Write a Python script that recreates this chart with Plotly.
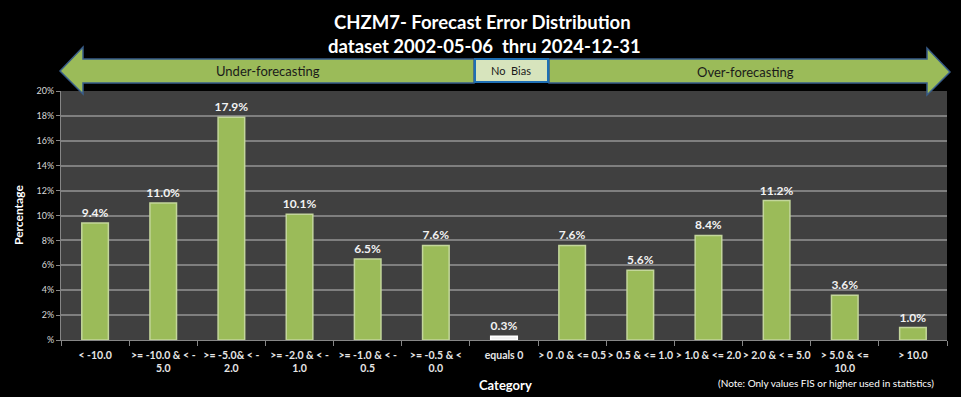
import plotly.graph_objects as go

categories = ["< -10.0", ">= -10.0 & < -<br>5.0", ">= -5.0& < -<br>2.0", ">= -2.0 & < -<br>1.0",
              ">= -1.0 & < -<br>0.5", ">= -0.5 & <<br>0.0", "equals 0", "> 0 .0 & <= 0.5",
              "> 0.5 & <= 1.0", "> 1.0 & <= 2.0", "> 2.0 & < = 5.0", "> 5.0 & <=<br>10.0", "> 10.0"]
values = [9.4, 11.0, 17.9, 10.1, 6.5, 7.6, 0.3, 7.6, 5.6, 8.4, 11.2, 3.6, 1.0]
ytick_vals = [0, 2, 4, 6, 8, 10, 12, 14, 16, 18, 20]
ytick_text = ["%", "2%", "4%", "6%", "8%", "10%", "12%", "14%", "16%", "18%", "20%"]

W, H = 961, 397
L, R, T, B = 61, 14, 91, 57
PW, PH = W - L - R, H - T - B

def px(x):
    return (x - L) / PW

def py(y):
    return (H - B - y) / PH

def path(points):
    return "M " + " L ".join(f"{px(a):.5f},{py(b):.5f}" for a, b in points) + " Z"

FONT = "Lato, 'Open Sans', sans-serif"
colors = ["#9BBB59"] * len(values)
colors[6] = "#F2F2F2"
lines = ["#C3D69B"] * len(values)
lines[6] = "#FFFFFF"

fig = go.Figure(go.Bar(
    x=categories, y=values, width=0.39,
    marker=dict(color=colors, line=dict(color=lines, width=1.5)),
    text=[f"{v:.1f}%" for v in values], textposition="outside", constraintext="none",
    textfont=dict(family=FONT, size=12, color="#F2F2F2", weight="bold"),
    cliponaxis=False,
))

shapes = [
    dict(type="path", xref="paper", yref="paper",
         path=path([(60, 71), (83, 47), (83, 59), (474, 59), (474, 83), (83, 83), (83, 94)]),
         fillcolor="#9BBB59", line=dict(color="#385D8A", width=1.5)),
    dict(type="path", xref="paper", yref="paper",
         path=path([(549, 59), (927, 59), (927, 48), (950, 72), (927, 95), (927, 83), (549, 83)]),
         fillcolor="#9BBB59", line=dict(color="#385D8A", width=1.5)),
    dict(type="rect", xref="paper", yref="paper", x0=px(475), x1=px(548), y0=py(59), y1=py(82),
         fillcolor="#D7E4BD", line=dict(color="#1F6FB4", width=2)),
]

def ann(text, x, y, size, color="white", angle=0):
    return dict(text=text, x=px(x), y=py(y), xref="paper", yref="paper", xanchor="center",
                yanchor="middle", showarrow=False, textangle=angle,
                font=dict(family=FONT, size=size, color=color))

annotations = [
    ann("<b>CHZM7- Forecast Error Distribution</b>", 482, 22, 18.5),
    ann("<b>dataset 2002-05-06  thru 2024-12-31</b>", 484, 46, 18.5),
    ann("Under-forecasting", 268, 71, 13, "#1A1A1A"),
    ann("No  Bias", 511, 71, 11, "#1A1A1A"),
    ann("Over-forecasting", 745, 72, 13, "#1A1A1A"),
    ann("<b>Category</b>", 505, 385, 13),
    ann("<b>Percentage</b>", 18, 215, 12, angle=-90),
    ann("(Note: Only values FIS or higher used in statistics)", 826, 383, 10),
]

fig.update_layout(
    width=W, height=H, margin=dict(l=L, r=R, t=T, b=B),
    paper_bgcolor="black", plot_bgcolor="#404040",
    showlegend=False, shapes=shapes, annotations=annotations, bargap=0.6,
    xaxis=dict(type="category", tickson="boundaries", ticks="outside", ticklen=5, tickcolor="#868686",
               showline=True, linecolor="#868686", showgrid=False, ticklabelstandoff=5,
               tickfont=dict(family=FONT, size=10.5, color="#E6E6E6", weight="bold"), tickangle=0),
    yaxis=dict(range=[0, 20], tickvals=ytick_vals, ticktext=ytick_text, ticks="outside", ticklen=4,
               tickcolor="#868686", showline=True, linecolor="#868686", gridcolor="#7F7F7F", gridwidth=1.5,
               zeroline=False, tickfont=dict(family=FONT, size=9, color="#D9D9D9")),
)

fig.write_html("out.html", config={"displayModeBar": False},
               post_script="document.body.style.margin='0';document.body.style.padding='0';document.body.style.background='black';")
